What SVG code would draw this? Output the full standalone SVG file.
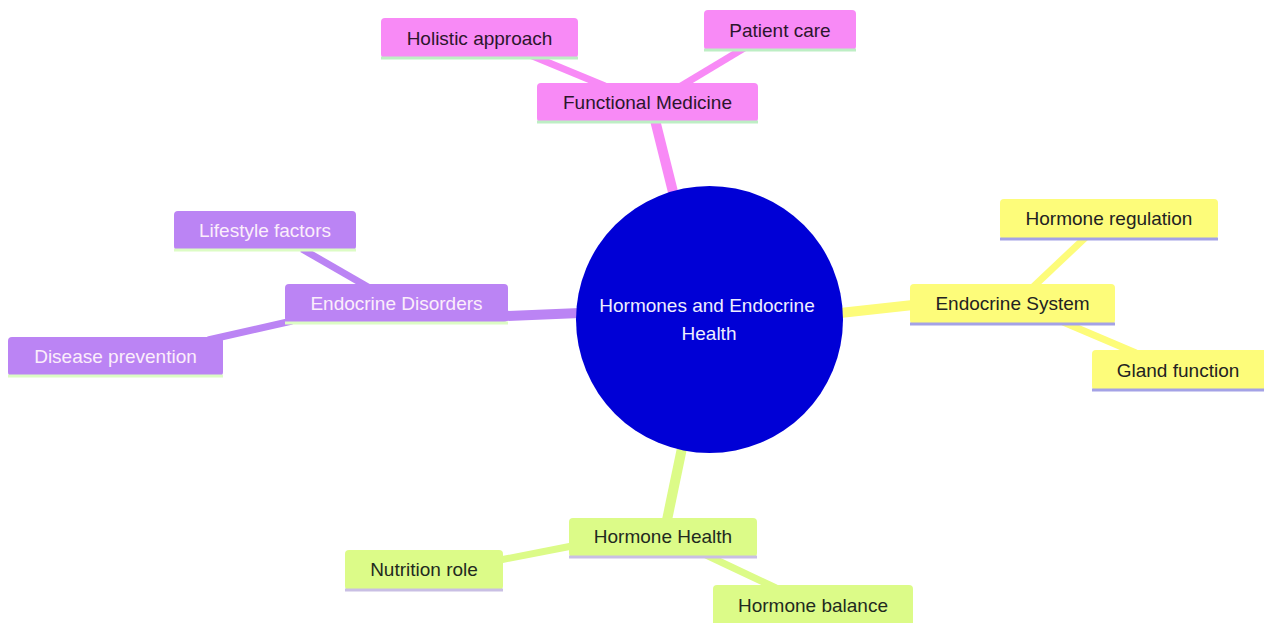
<svg xmlns="http://www.w3.org/2000/svg" width="1264" height="623" viewBox="0 0 1264 623">
<style>
text{font-family:"Liberation Sans",Arial,sans-serif;font-size:19px;text-anchor:middle}
.e{stroke-linecap:butt;fill:none}
.d1{stroke-width:10}
.d2{stroke-width:7}
.pk{fill:#f88af6}
.pu{fill:#bb84f4}
.ye{fill:#fdfc7a}
.gr{fill:#dcfb88}
.epk{stroke:#f88af6}
.epu{stroke:#bb84f4}
.eye{stroke:#fdfc7a}
.egr{stroke:#dcfb88}
.lpk{stroke:#bdeec4;stroke-width:3}
.lpu{stroke:#dcfcc4;stroke-width:3}
.lye{stroke:#a4a2e6;stroke-width:3}
.lgr{stroke:#c9bfe4;stroke-width:3}
.tpk{fill:#2c162c}
.tpu{fill:#fbeefb}
.tye{fill:#222222}
.tgr{fill:#1f2a1f}
</style>
<g id="connectors">
<line class="e d1 epk" x1="673" y1="192" x2="655" y2="120"/>
<line class="e d2 epk" x1="605" y1="86" x2="530" y2="55"/>
<line class="e d2 epk" x1="681" y1="86" x2="746" y2="47"/>
<line class="e d1 epu" x1="580" y1="313" x2="505" y2="316"/>
<line class="e d2 epu" x1="368" y1="287" x2="302" y2="249"/>
<line class="e d2 epu" x1="292" y1="321" x2="208" y2="340"/>
<line class="e d1 eye" x1="840" y1="313" x2="913" y2="305"/>
<line class="e d2 eye" x1="1033" y1="287" x2="1086" y2="237"/>
<line class="e d2 eye" x1="1063" y1="322" x2="1136" y2="353"/>
<line class="e d1 egr" x1="682" y1="448" x2="667" y2="520"/>
<line class="e d2 egr" x1="572" y1="546" x2="500" y2="560"/>
<line class="e d2 egr" x1="706" y1="555" x2="776" y2="588"/>
</g>
<g id="root">
<circle cx="709.5" cy="319.5" r="133.5" fill="#0000d6"/>
<text x="707" y="312" fill="#eeeeff">Hormones and Endocrine</text>
<text x="709" y="340" fill="#eeeeff">Health</text>
</g>
<g id="functional-medicine">
<rect class="pk" x="537" y="83" width="221" height="39" rx="4"/>
<line class="lpk" x1="537" y1="122" x2="758" y2="122"/>
<text class="tpk" x="647.5" y="109">Functional Medicine</text>
</g>
<g id="holistic-approach">
<rect class="pk" x="381" y="18" width="197" height="40" rx="4"/>
<line class="lpk" x1="381" y1="58" x2="578" y2="58"/>
<text class="tpk" x="479.5" y="45">Holistic approach</text>
</g>
<g id="patient-care">
<rect class="pk" x="704" y="10" width="152" height="40" rx="4"/>
<line class="lpk" x1="704" y1="50" x2="856" y2="50"/>
<text class="tpk" x="780" y="37">Patient care</text>
</g>
<g id="endocrine-disorders">
<rect class="pu" x="285" y="284" width="223" height="38" rx="4"/>
<line class="lpu" x1="285" y1="323" x2="508" y2="323"/>
<text class="tpu" x="396.5" y="310">Endocrine Disorders</text>
</g>
<g id="lifestyle-factors">
<rect class="pu" x="174" y="211" width="182" height="39" rx="4"/>
<line class="lpu" x1="174" y1="250" x2="356" y2="250"/>
<text class="tpu" x="265" y="237">Lifestyle factors</text>
</g>
<g id="disease-prevention">
<rect class="pu" x="8" y="337" width="215" height="39" rx="4"/>
<line class="lpu" x1="8" y1="376" x2="223" y2="376"/>
<text class="tpu" x="115.5" y="363">Disease prevention</text>
</g>
<g id="endocrine-system">
<rect class="ye" x="910" y="284" width="205" height="40" rx="4"/>
<line class="lye" x1="910" y1="324" x2="1115" y2="324"/>
<text class="tye" x="1012.5" y="310">Endocrine System</text>
</g>
<g id="hormone-regulation">
<rect class="ye" x="1000" y="199" width="218" height="40" rx="4"/>
<line class="lye" x1="1000" y1="239" x2="1218" y2="239"/>
<text class="tye" x="1109" y="225">Hormone regulation</text>
</g>
<g id="gland-function">
<rect class="ye" x="1092" y="350" width="176" height="40" rx="4"/>
<line class="lye" x1="1092" y1="390" x2="1268" y2="390"/>
<text class="tye" x="1178" y="377">Gland function</text>
</g>
<g id="hormone-health">
<rect class="gr" x="569" y="518" width="188" height="39" rx="4"/>
<line class="lgr" x1="569" y1="557" x2="757" y2="557"/>
<text class="tgr" x="663" y="543">Hormone Health</text>
</g>
<g id="nutrition-role">
<rect class="gr" x="345" y="550" width="158" height="40" rx="4"/>
<line class="lgr" x1="345" y1="590" x2="503" y2="590"/>
<text class="tgr" x="424" y="576">Nutrition role</text>
</g>
<g id="hormone-balance">
<rect class="gr" x="713" y="585" width="200" height="42" rx="4"/>
<text class="tgr" x="813" y="612">Hormone balance</text>
</g>
</svg>
